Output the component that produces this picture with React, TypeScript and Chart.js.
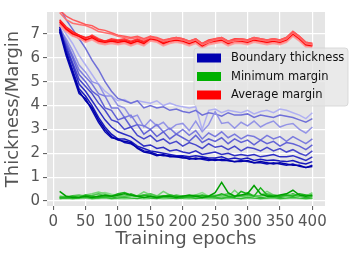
import React, { useEffect, useRef } from "react";
import { Chart, registerables } from "chart.js";

Chart.register(...registerables);

const epochs = [10, 20, 30, 40, 50, 60, 70, 80, 90, 100, 110, 120, 130, 140, 150, 160, 170, 180, 190, 200, 210, 220, 230, 240, 250, 260, 270, 280, 290, 300, 310, 320, 330, 340, 350, 360, 370, 380, 390, 400];
const xTicks = [0, 50, 100, 150, 200, 250, 300, 350, 400];
const yTicks = [0, 1, 2, 3, 4, 5, 6, 7];

// Boundary thickness (dark -> light)
const thick0 = [7.2, 6.2, 5.4, 4.6, 4.2, 3.9, 3.4, 3.0, 2.7, 2.55, 2.5, 2.45, 2.2, 2.05, 2.0, 1.9, 1.95, 1.85, 1.85, 1.8, 1.8, 1.75, 1.8, 1.75, 1.7, 1.75, 1.7, 1.65, 1.65, 1.7, 1.6, 1.65, 1.6, 1.55, 1.6, 1.55, 1.5, 1.5, 1.4, 1.45];
const thick1 = [7.1, 6.1, 5.3, 4.5, 4.3, 3.8, 3.3, 2.9, 2.65, 2.6, 2.45, 2.4, 2.25, 2.1, 2.05, 1.95, 1.9, 1.9, 1.85, 1.85, 1.75, 1.8, 1.75, 1.7, 1.75, 1.7, 1.7, 1.65, 1.7, 1.65, 1.6, 1.6, 1.55, 1.6, 1.55, 1.5, 1.55, 1.45, 1.4, 1.5];
const thick2 = [7.3, 6.3, 5.5, 4.7, 4.4, 4.0, 3.5, 3.1, 2.8, 2.6, 2.6, 2.5, 2.3, 2.2, 2.1, 2.05, 2.0, 1.95, 1.9, 1.9, 1.85, 1.9, 1.85, 1.8, 1.8, 1.85, 1.75, 1.8, 1.75, 1.8, 1.7, 1.75, 1.7, 1.72, 1.68, 1.65, 1.7, 1.6, 1.55, 1.65];
const thick3 = [7.2, 6.4, 5.7, 4.9, 4.6, 4.2, 3.8, 3.4, 3.1, 2.9, 2.8, 2.7, 2.5, 2.3, 2.35, 2.2, 2.25, 2.1, 2.15, 2.05, 2.0, 2.1, 1.95, 2.0, 2.05, 1.95, 2.0, 1.9, 1.95, 1.9, 1.95, 1.85, 1.9, 1.95, 1.85, 1.85, 1.9, 1.8, 1.7, 1.85];
const thick4 = [7.1, 6.5, 5.8, 5.1, 4.8, 4.5, 4.1, 3.8, 3.4, 3.3, 3.0, 3.1, 2.75, 2.6, 2.75, 2.5, 2.6, 2.4, 2.5, 2.3, 2.45, 2.35, 2.2, 2.4, 2.25, 2.3, 2.15, 2.3, 2.1, 2.25, 2.2, 2.1, 2.25, 2.1, 2.2, 2.05, 2.15, 2.0, 1.9, 2.1];
const thick5 = [7.2, 6.6, 6.0, 5.3, 5.0, 4.6, 4.4, 3.9, 3.8, 3.4, 3.5, 3.1, 3.2, 2.8, 3.0, 2.7, 2.9, 2.6, 2.8, 2.65, 2.5, 2.75, 2.45, 2.6, 2.5, 2.65, 2.4, 2.6, 2.45, 2.55, 2.35, 2.55, 2.4, 2.5, 2.3, 2.45, 2.4, 2.3, 2.15, 2.35];
const thick6 = [7.3, 6.7, 6.1, 5.5, 5.2, 4.9, 4.5, 4.4, 3.9, 3.9, 3.5, 3.6, 3.2, 3.15, 3.0, 3.2, 2.9, 3.05, 2.8, 3.0, 2.75, 2.95, 2.6, 2.85, 2.7, 2.9, 2.65, 2.8, 2.6, 2.75, 2.7, 2.55, 2.75, 2.6, 2.7, 2.5, 2.7, 2.55, 2.4, 2.6];
const thick7 = [7.2, 6.8, 6.3, 5.7, 5.4, 5.0, 4.9, 4.4, 4.4, 4.0, 3.9, 3.5, 3.6, 3.1, 3.4, 3.15, 3.3, 3.0, 3.2, 3.25, 2.95, 3.35, 2.9, 3.2, 3.75, 3.25, 3.3, 3.05, 3.3, 3.15, 3.35, 3.1, 3.25, 3.35, 3.1, 3.2, 3.25, 3.0, 2.85, 3.1];
const thick8 = [8.1, 7.6, 7.2, 6.8, 6.4, 5.9, 5.5, 5.0, 4.6, 4.3, 4.2, 4.1, 4.2, 3.9, 4.0, 3.9, 3.95, 3.8, 3.85, 3.75, 3.7, 3.8, 3.6, 3.7, 3.65, 3.55, 3.7, 3.6, 3.6, 3.65, 3.5, 3.6, 3.55, 3.5, 3.6, 3.55, 3.5, 3.4, 3.3, 3.45];
const thick9 = [7.4, 7.0, 6.6, 6.1, 5.7, 5.3, 4.9, 4.6, 4.4, 4.2, 4.25, 4.1, 4.2, 4.15, 4.1, 4.2, 4.0, 4.1, 4.0, 3.95, 3.9, 3.95, 3.0, 3.8, 3.85, 3.7, 3.8, 3.75, 3.7, 3.8, 3.65, 3.75, 3.8, 3.7, 3.85, 3.8, 3.7, 3.6, 3.45, 3.7];

// Minimum margin
const minM0 = [0.4, 0.2, 0.15, 0.15, 0.2, 0.15, 0.2, 0.25, 0.2, 0.25, 0.3, 0.25, 0.2, 0.15, 0.2, 0.15, 0.2, 0.2, 0.15, 0.2, 0.25, 0.2, 0.15, 0.2, 0.35, 0.78, 0.35, 0.2, 0.25, 0.3, 0.65, 0.3, 0.2, 0.2, 0.25, 0.3, 0.45, 0.25, 0.2, 0.25];
const minM1 = [0.15, 0.15, 0.2, 0.15, 0.25, 0.2, 0.15, 0.2, 0.2, 0.3, 0.35, 0.25, 0.2, 0.25, 0.2, 0.15, 0.2, 0.25, 0.2, 0.15, 0.2, 0.2, 0.25, 0.2, 0.2, 0.3, 0.2, 0.15, 0.4, 0.3, 0.2, 0.55, 0.25, 0.2, 0.2, 0.25, 0.2, 0.3, 0.25, 0.2];
const minM2 = [0.1, 0.12, 0.1, 0.12, 0.15, 0.1, 0.12, 0.15, 0.1, 0.12, 0.15, 0.12, 0.1, 0.15, 0.12, 0.1, 0.15, 0.12, 0.1, 0.12, 0.15, 0.1, 0.12, 0.15, 0.12, 0.1, 0.15, 0.12, 0.1, 0.15, 0.12, 0.1, 0.12, 0.15, 0.1, 0.12, 0.15, 0.12, 0.1, 0.12];
const minM3 = [0.2, 0.18, 0.22, 0.25, 0.2, 0.22, 0.3, 0.2, 0.18, 0.22, 0.2, 0.25, 0.2, 0.22, 0.3, 0.2, 0.22, 0.18, 0.25, 0.2, 0.2, 0.25, 0.2, 0.18, 0.22, 0.25, 0.3, 0.2, 0.2, 0.25, 0.2, 0.22, 0.3, 0.25, 0.2, 0.22, 0.25, 0.2, 0.22, 0.2];
const minM4 = [0.12, 0.15, 0.18, 0.2, 0.25, 0.3, 0.38, 0.3, 0.22, 0.2, 0.18, 0.2, 0.22, 0.38, 0.25, 0.2, 0.4, 0.25, 0.2, 0.22, 0.2, 0.18, 0.2, 0.22, 0.25, 0.2, 0.18, 0.45, 0.2, 0.15, 0.2, 0.22, 0.4, 0.25, 0.2, 0.18, 0.2, 0.22, 0.2, 0.35];
const minM5 = [0.15, 0.2, 0.15, 0.2, 0.22, 0.25, 0.3, 0.35, 0.28, 0.22, 0.2, 0.18, 0.2, 0.25, 0.3, 0.22, 0.2, 0.25, 0.2, 0.18, 0.22, 0.25, 0.35, 0.2, 0.22, 0.2, 0.25, 0.22, 0.2, 0.18, 0.25, 0.2, 0.22, 0.25, 0.2, 0.3, 0.25, 0.2, 0.22, 0.3];
const minM6 = [0.08, 0.1, 0.08, 0.1, 0.12, 0.08, 0.1, 0.12, 0.08, 0.1, 0.08, 0.1, 0.12, 0.08, 0.1, 0.12, 0.08, 0.1, 0.12, 0.1, 0.08, 0.1, 0.12, 0.08, 0.1, 0.08, 0.1, 0.12, 0.08, 0.1, 0.12, 0.08, 0.1, 0.12, 0.08, 0.1, 0.12, 0.1, 0.08, 0.1];
const minM7 = [0.15, 0.12, 0.15, 0.18, 0.12, 0.15, 0.2, 0.15, 0.12, 0.18, 0.15, 0.3, 0.2, 0.15, 0.12, 0.15, 0.18, 0.15, 0.2, 0.15, 0.12, 0.18, 0.15, 0.2, 0.15, 0.12, 0.15, 0.18, 0.2, 0.35, 0.2, 0.15, 0.12, 0.18, 0.15, 0.2, 0.3, 0.2, 0.15, 0.12];

// Average margin
const avgM0 = [8.0, 7.75, 7.6, 7.5, 7.4, 7.35, 7.2, 7.15, 7.05, 6.95, 6.9, 6.85, 6.9, 6.8, 6.9, 6.85, 6.75, 6.8, 6.85, 6.8, 6.7, 6.8, 6.6, 6.7, 6.8, 6.85, 6.7, 6.75, 6.8, 6.75, 6.85, 6.8, 6.75, 6.8, 6.75, 6.85, 7.1, 6.9, 6.65, 6.6];
const avgM1 = [7.9, 7.6, 7.45, 7.4, 7.35, 7.25, 7.1, 7.05, 7.0, 6.9, 6.85, 6.8, 6.85, 6.75, 6.85, 6.8, 6.7, 6.75, 6.8, 6.75, 6.65, 6.75, 6.55, 6.65, 6.75, 6.8, 6.65, 6.7, 6.75, 6.7, 6.8, 6.75, 6.7, 6.75, 6.7, 6.8, 7.05, 6.85, 6.6, 6.55];
const avgM2 = [7.6, 7.3, 7.1, 6.95, 6.85, 6.9, 6.75, 6.7, 6.75, 6.7, 6.75, 6.65, 6.75, 6.65, 6.85, 6.8, 6.65, 6.75, 6.8, 6.75, 6.65, 6.75, 6.55, 6.7, 6.75, 6.8, 6.65, 6.75, 6.75, 6.7, 6.8, 6.75, 6.7, 6.75, 6.7, 6.8, 7.05, 6.85, 6.6, 6.55];
const avgM3 = [7.5, 7.2, 7.0, 6.9, 6.75, 6.85, 6.7, 6.65, 6.7, 6.65, 6.7, 6.6, 6.7, 6.6, 6.8, 6.75, 6.6, 6.7, 6.75, 6.7, 6.6, 6.7, 6.5, 6.65, 6.7, 6.75, 6.6, 6.7, 6.7, 6.65, 6.75, 6.7, 6.65, 6.7, 6.65, 6.75, 7.0, 6.8, 6.55, 6.5];
const avgM4 = [7.45, 7.15, 6.95, 6.8, 6.7, 6.8, 6.65, 6.6, 6.65, 6.6, 6.65, 6.55, 6.65, 6.55, 6.75, 6.7, 6.55, 6.65, 6.7, 6.65, 6.55, 6.65, 6.45, 6.6, 6.65, 6.7, 6.55, 6.65, 6.65, 6.6, 6.7, 6.65, 6.6, 6.65, 6.6, 6.7, 6.95, 6.75, 6.5, 6.45];
const avgM5 = [7.35, 7.1, 6.9, 6.85, 6.65, 6.75, 6.6, 6.55, 6.6, 6.55, 6.6, 6.5, 6.6, 6.5, 6.7, 6.65, 6.5, 6.6, 6.65, 6.6, 6.5, 6.6, 6.4, 6.55, 6.6, 6.65, 6.5, 6.6, 6.6, 6.55, 6.65, 6.6, 6.55, 6.6, 6.55, 6.65, 6.9, 6.7, 6.45, 6.4];
const avgM6 = [7.55, 7.25, 7.05, 6.95, 6.8, 6.95, 6.8, 6.7, 6.8, 6.75, 6.8, 6.7, 6.8, 6.7, 6.9, 6.8, 6.7, 6.8, 6.85, 6.8, 6.7, 6.8, 6.6, 6.75, 6.8, 6.85, 6.7, 6.8, 6.8, 6.75, 6.85, 6.8, 6.75, 6.8, 6.75, 6.85, 7.1, 6.9, 6.65, 6.6];
const avgM7 = [7.4, 7.2, 6.95, 6.85, 6.7, 6.8, 6.65, 6.6, 6.7, 6.6, 6.7, 6.6, 6.65, 6.6, 6.75, 6.7, 6.6, 6.65, 6.75, 6.65, 6.6, 6.65, 6.5, 6.6, 6.7, 6.7, 6.6, 6.65, 6.7, 6.65, 6.7, 6.7, 6.6, 6.7, 6.6, 6.75, 7.0, 6.75, 6.55, 6.5];

const thickSeries = [thick0, thick1, thick2, thick3, thick4, thick5, thick6, thick7, thick8, thick9];
const thickColors = ["#0000aa", "#0a0ab4", "#1818bc", "#2e2ec4", "#4848cc", "#6262d6", "#7a7ade", "#9494e6", "#7070d8", "#b0b0f2"];
const minSeries = [minM0, minM1, minM2, minM3, minM4, minM5, minM6, minM7];
const minColors = ["#00a000", "#1eb41e", "#34bc34", "#50c450", "#78d478", "#8cdc8c", "#a8e8a8", "#28b028"];
const avgSeries = [avgM0, avgM1, avgM2, avgM3, avgM4, avgM5, avgM6, avgM7];
const avgColors = ["#ff5a5a", "#ff7070", "#ff2020", "#ff0000", "#ff8888", "#ffa0a0", "#ff4040", "#ff6060"];

const legendLabels = ["Boundary thickness", "Minimum margin", "Average margin"];
const legendColors = ["#0000b0", "#00b000", "#ff0000"];

const FONT = "'DejaVu Sans', sans-serif";

export default function App() {
  const ref = useRef<HTMLCanvasElement>(null);

  useEffect(() => {
    document.body.style.margin = "0";
    const toPts = (arr: number[]) => arr.map((v, i) => ({ x: epochs[i], y: v }));
    const mk = (arr: number[], color: string) => ({
      data: toPts(arr),
      borderColor: color,
      backgroundColor: color,
      borderWidth: 1.5,
      pointRadius: 0,
      tension: 0,
      fill: false,
    });
    const datasets = [
      ...avgSeries.map((s, i) => mk(s, avgColors[i])),
      ...minSeries.map((s, i) => mk(s, minColors[i])),
      ...thickSeries.map((s, i) => mk(s, thickColors[i])),
    ];

    const bgPlugin = {
      id: "bg",
      beforeDraw(chart: any) {
        const { ctx, chartArea } = chart;
        ctx.save();
        ctx.fillStyle = "#e5e5e5";
        ctx.fillRect(chartArea.left, chartArea.top, chartArea.right - chartArea.left, chartArea.bottom - chartArea.top);
        ctx.restore();
      },
    };

    const legendPlugin = {
      id: "customLegend",
      afterDraw(chart: any) {
        const { ctx } = chart;
        const bx = 194, by = 48, bw = 154, bh = 58, r = 3;
        ctx.save();
        ctx.beginPath();
        ctx.moveTo(bx + r, by);
        ctx.lineTo(bx + bw - r, by);
        ctx.quadraticCurveTo(bx + bw, by, bx + bw, by + r);
        ctx.lineTo(bx + bw, by + bh - r);
        ctx.quadraticCurveTo(bx + bw, by + bh, bx + bw - r, by + bh);
        ctx.lineTo(bx + r, by + bh);
        ctx.quadraticCurveTo(bx, by + bh, bx, by + bh - r);
        ctx.lineTo(bx, by + r);
        ctx.quadraticCurveTo(bx, by, bx + r, by);
        ctx.closePath();
        ctx.fillStyle = "rgba(229,229,229,0.8)";
        ctx.fill();
        ctx.strokeStyle = "rgba(210,210,210,0.8)";
        ctx.lineWidth = 1;
        ctx.stroke();
        ctx.font = `11.5px ${FONT}`;
        ctx.textBaseline = "middle";
        ctx.textAlign = "left";
        legendLabels.forEach((lab, i) => {
          const cy = 58 + i * 18.5;
          ctx.fillStyle = legendColors[i];
          ctx.fillRect(197, cy - 4.5, 24, 9);
          ctx.fillStyle = "#111";
          ctx.fillText(lab, 231, cy + 0.5);
        });
        ctx.restore();
      },
    };

    const chart = new Chart(ref.current as HTMLCanvasElement, {
      type: "line",
      data: { datasets },
      plugins: [bgPlugin, legendPlugin],
      options: {
        responsive: false,
        animation: false,
        devicePixelRatio: 1,
        layout: { padding: { top: 11, right: 29, left: 0, bottom: 0 } },
        plugins: { legend: { display: false }, tooltip: { enabled: false } },
        scales: {
          x: {
            type: "linear",
            min: -9.5,
            max: 419.5,
            afterBuildTicks: (scale: any) => {
              scale.ticks = xTicks.map((v) => ({ value: v }));
            },
            afterFit: (scale: any) => {
              scale.height = 51;
            },
            grid: { color: "#ffffff", lineWidth: 1.2, tickColor: "#555555", tickLength: 4, tickWidth: 1 },
            border: { display: false },
            ticks: { color: "#555555", font: { family: FONT, size: 15 }, padding: 3, maxRotation: 0, autoSkip: false },
            title: { display: true, text: "Training epochs", color: "#555555", font: { family: FONT, size: 18 }, padding: { top: 0, bottom: 7 } },
          },
          y: {
            type: "linear",
            min: -0.21,
            max: 7.92,
            afterBuildTicks: (scale: any) => {
              scale.ticks = yTicks.map((v) => ({ value: v }));
            },
            afterFit: (scale: any) => {
              scale.width = 47;
            },
            grid: { color: "#ffffff", lineWidth: 1.2, tickColor: "#555555", tickLength: 4, tickWidth: 1 },
            border: { display: false },
            ticks: { color: "#555555", font: { family: FONT, size: 15 }, padding: 3, autoSkip: false },
            title: { display: true, text: "Thickness/Margin", color: "#555555", font: { family: FONT, size: 18 }, padding: { top: 3, bottom: 0 } },
          },
        },
      },
    } as any);

    return () => chart.destroy();
  }, []);

  return (
    <div style={{ position: "absolute", left: 0, top: 0, width: 354, height: 257 }}>
      <canvas ref={ref} width={354} height={257} style={{ width: 354, height: 257, display: "block" }} />
    </div>
  );
}
